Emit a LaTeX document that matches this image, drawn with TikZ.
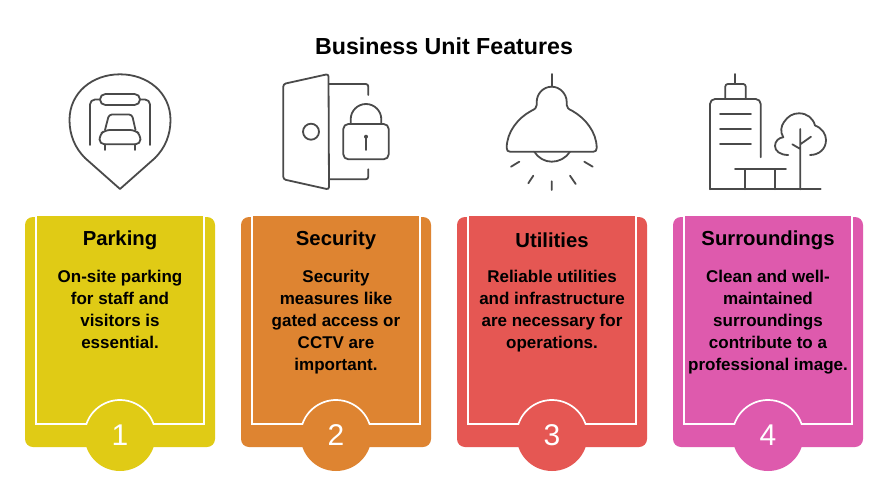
\documentclass[tikz,border=0pt]{standalone}
\usepackage{fontspec}
\setmainfont{Liberation Sans}
\definecolor{cyel}{HTML}{E0CB15}
\definecolor{cora}{HTML}{DE8431}
\definecolor{cred}{HTML}{E55753}
\definecolor{cpin}{HTML}{DE5AAD}
\definecolor{icon}{HTML}{4A4A4A}
\newcommand{\cardblock}[6]{%
  % #1 left x, #2 colour, #3 name, #4 heading, #5 body, #6 digit
  \begin{scope}[shift={(#1,0)}]
    \fill[#2,rounded corners=8pt] (0,217) rectangle (190,447);
    \fill[#2] (11,216) rectangle (179,230);
    \fill[#2] (95,435.5) circle[radius=35.5pt];
    \draw[cardline] (11,216) -- (11,424) -- (61.4,424)
      arc[start angle=161.1,end angle=18.9,radius=35.5pt]
      -- (179,424) -- (179,216);
    \node[headtext] (#3head) at (95,240) {#4};
    \node[bodytext,anchor=north] (#3body) at (95,270) {#5};
    \node[digit] (#3num) at (95,435.5) {#6};
  \end{scope}}
\tikzset{
  cardline/.style={draw=white,line width=1.7pt},
  headtext/.style={font=\bfseries\fontsize{20.3}{22}\selectfont,inner sep=0pt},
  bodytext/.style={font=\bfseries\fontsize{17}{22}\selectfont,align=center,inner sep=0pt},
  digit/.style={font=\fontsize{30}{30}\selectfont,text=white,inner sep=0pt},
  ic/.style={draw=icon,line width=1.8pt,line cap=round,line join=round},
}
\begin{document}
\begin{tikzpicture}[x=1pt,y=-1pt]
\useasboundingbox (0,0) rectangle (888,492);
\fill[white] (0,0) rectangle (888,492);
\node[font=\bfseries\fontsize{23.2}{24}\selectfont,inner sep=0pt] (title) at (444,46) {Business Unit Features};

\cardblock{25}{cyel}{a}{Parking}{On-site parking\\for staff and\\visitors is\\essential.}{1}
\cardblock{241}{cora}{b}{Security}{Security\\measures like\\gated access or\\CCTV are\\important.}{2}
\cardblock{457}{cred}{c}{Utilities}{Reliable utilities\\and infrastructure\\are necessary for\\operations.}{3}
\cardblock{673}{cpin}{d}{Surroundings}{Clean and well-\\maintained\\surroundings\\contribute to a\\professional image.}{4}

% Icon 1: parking pin
\draw[ic] (120,189) -- (85,158) .. controls (75,148) and (69.5,135) .. (69.5,120)
  .. controls (69.5,93) and (92,74.3) .. (120,74.3)
  .. controls (148,74.3) and (170.5,93) .. (170.5,120)
  .. controls (170.5,135) and (165,148) .. (155,158) -- cycle;
\draw[ic,rounded corners=5.4pt] (100,94) rectangle (140,105);
\draw[ic,rounded corners=5pt] (90,145) -- (90,99.5) -- (100,99.5);
\draw[ic,rounded corners=5pt] (150,145) -- (150,99.5) -- (140,99.5);
\draw[ic,rounded corners=3pt] (105,130) -- (109,114.5) -- (132,114.5) -- (135.5,130);
\draw[ic,rounded corners=5pt] (105,130) -- (135,130) -- (140.5,135) -- (140.5,144.3) -- (99.5,144.3) -- (99.5,135) -- cycle;
\draw[ic] (105,144.3) -- (105,150) (135,144.3) -- (135,150);

% Icon 2: door and lock
\draw[ic,rounded corners=2.5pt] (283.3,84) -- (328.5,74) -- (329,189.5) -- (283.3,179.3) -- cycle;
\draw[ic,rounded corners=2.5pt] (329,84) -- (368.3,84) -- (368.3,95);
\draw[ic,rounded corners=2.5pt] (329,179.3) -- (368.3,179.3) -- (368.3,169.3);
\draw[ic] (311,131.7) circle[radius=8pt];
\draw[ic,rounded corners=5pt] (343.3,124) rectangle (388.7,159.3);
\draw[ic] (350.7,124) -- (350.7,119.3) arc[start angle=180,end angle=0,radius=15.3pt] -- (381.3,124);
\fill[icon] (366,136.7) circle[radius=2pt];
\draw[ic] (366,136.7) -- (366,150);

% Icon 3: lamp
\draw[ic] (551.7,74) -- (551.7,86.7);
\draw[ic] (551.7,86.7) .. controls (543,86.7) and (536.7,94) .. (536.7,102)
  -- (536.7,105) .. controls (536.7,108) and (535,109) .. (531,111)
  .. controls (518,118) and (506.7,132) .. (506.7,148)
  .. controls (506.7,150.5) and (508,151.7) .. (510,151.7)
  -- (593.5,151.7) .. controls (595.5,151.7) and (596.7,150.5) .. (596.7,148)
  .. controls (596.7,132) and (585,118) .. (572.5,111)
  .. controls (568.5,109) and (566.7,108) .. (566.7,105)
  -- (566.7,102) .. controls (566.7,94) and (560,86.7) .. (551.7,86.7) -- cycle;
\draw[ic] (534.3,151.7) .. controls (538,158) and (545,161.7) .. (551.7,161.7)
  .. controls (559,161.7) and (566,158) .. (570,151.7);
\draw[ic] (511,166.7) -- (519.3,161.7) (528.3,183.3) -- (533.3,175.7)
  (551.7,181.3) -- (551.7,190) (570,175.7) -- (575.7,184) (584.3,161.7) -- (592.7,166.7);

% Icon 4: building and tree
\draw[ic] (735.3,74) -- (735.3,84);
\draw[ic,rounded corners=2.5pt] (725.3,99) -- (725.3,84) -- (745.7,84) -- (745.7,99);
\draw[ic,rounded corners=5pt] (710,189.3) -- (710,99) -- (760.7,99) -- (760.7,157.3);
\draw[ic] (720,114) -- (751,114) (720,129.3) -- (751,129.3) (720,144.3) -- (751,144.3);
\draw[ic] (710,189.3) -- (820.7,189.3);
\draw[ic] (735,169) -- (786,169) (745.3,169) -- (745.3,189.3) (775.3,169) -- (775.3,189.3);
\draw[ic] (800.3,129) -- (800.3,189.3) (811,136.7) -- (800.3,144.3) (792.3,144.3) -- (800.3,149);
\draw[ic] (788.3,155) .. controls (780,155) and (775,151) .. (775,146)
  .. controls (775,141) and (779,137.5) .. (783.3,137.3)
  .. controls (780,132) and (781,126) .. (784,122)
  .. controls (788,116) and (793,113.3) .. (799,113.3)
  .. controls (807,113.3) and (813,118) .. (815,125.5)
  .. controls (822,128) and (826,134) .. (826,140)
  .. controls (826,149) and (819,155) .. (810,155);
\end{tikzpicture}
\end{document}
